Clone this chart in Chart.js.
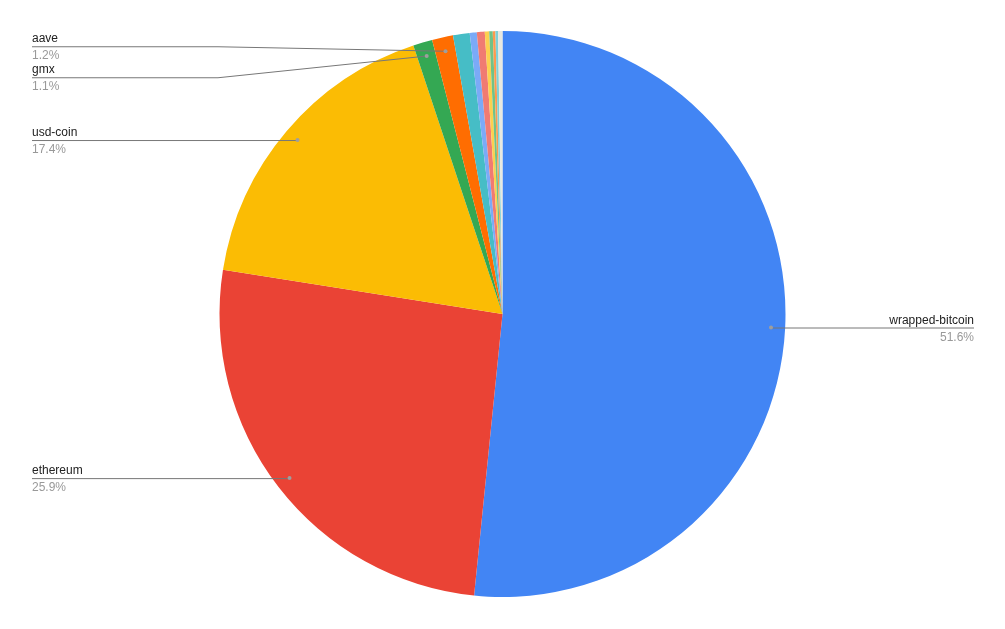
<!DOCTYPE html>
<html>
<head>
<meta charset="utf-8">
<script src="https://cdn.jsdelivr.net/npm/chart.js@4/dist/chart.umd.min.js"></script>
<style>
  html, body { margin: 0; padding: 0; background: #fff; }
  #wrap { width: 1005px; height: 629px; }
</style>
</head>
<body>
<div id="wrap"><canvas id="chartPie"></canvas></div>
<script>
// --- DATA ---
const labels = ['wrapped-bitcoin', 'ethereum', 'usd-coin', 'gmx', 'aave',
  'other-1', 'other-2', 'other-3', 'other-4', 'other-5', 'other-6', 'other-7', 'other-8'];
const values = [51.6, 25.9, 17.4, 1.1, 1.2, 0.95, 0.4, 0.45, 0.25, 0.2, 0.15, 0.15, 0.25];
const colors = ['#4285f4', '#ea4335', '#fbbc04', '#34a853', '#ff6d01', '#46bdc6',
  '#7baaf7', '#f07b72', '#fcd04f', '#71c287', '#ff994d', '#7ed1d7', '#e8e8e0'];

// --- LABELS WITH LEADER LINES (only slices >= 1%) ---
const leaderLabels = {
  id: 'leaderLabels',
  afterDraw(chart) {
    const ctx = chart.ctx;
    const meta = chart.getDatasetMeta(0);
    const total = values.reduce((a, b) => a + b, 0);
    const left = [], right = [];
    meta.data.forEach((arc, i) => {
      const pct = values[i] / total * 100;
      if (pct < 1) return;
      const mid = (arc.startAngle + arc.endAngle) / 2;
      const r = arc.outerRadius * 0.95;
      const x = arc.x + Math.cos(mid) * r;
      const y = arc.y + Math.sin(mid) * r;
      const item = { x, y, ly: y, name: labels[i], pct: pct.toFixed(1) + '%' };
      (x < arc.x ? left : right).push(item);
    });
    [left, right].forEach(list => {
      list.sort((a, b) => a.y - b.y);
      let pushed = false;
      for (let k = 1; k < list.length; k++) {
        if (list[k].ly < list[k - 1].ly + 31) { list[k].ly = list[k - 1].ly + 31; pushed = true; }
      }
      // crowded labels at the top: lift the stack a little
      if (pushed) {
        for (let k = 0; k < list.length; k++) {
          if (k === 0 || list[k].ly !== list[k].y) list[k].ly -= 5; else break;
        }
      }
    });
    ctx.save();
    ctx.font = '12px "Liberation Sans", Arial, sans-serif';
    const draw = (it, side) => {
      const endX = side === 'left' ? 32 : 974;
      const elbowX = side === 'left' ? 218 : 800;
      ctx.strokeStyle = '#777777';
      ctx.lineWidth = 1;
      ctx.beginPath();
      ctx.moveTo(it.x, it.y);
      if (Math.abs(it.ly - it.y) > 0.5) ctx.lineTo(elbowX, it.ly + 0.5);
      else ctx.lineTo(it.x, it.ly + 0.5);
      ctx.lineTo(endX, it.ly + 0.5);
      ctx.stroke();
      ctx.fillStyle = '#9e9e9e';
      ctx.beginPath();
      ctx.arc(it.x, it.y, 2, 0, Math.PI * 2);
      ctx.fill();
      ctx.textAlign = side === 'left' ? 'left' : 'right';
      ctx.textBaseline = 'alphabetic';
      ctx.fillStyle = '#222222';
      ctx.fillText(it.name, endX, it.ly - 4);
      ctx.fillStyle = '#999999';
      ctx.fillText(it.pct, endX, it.ly + 13);
    };
    left.forEach(it => draw(it, 'left'));
    right.forEach(it => draw(it, 'right'));
    ctx.restore();
  }
};

// --- CHART ---
new Chart(document.getElementById('chartPie'), {
  type: 'pie',
  data: {
    labels: labels,
    datasets: [{
      data: values,
      backgroundColor: colors,
      borderWidth: 0
    }]
  },
  options: {
    responsive: true,
    maintainAspectRatio: false,
    animation: false,
    layout: { padding: { top: 31, bottom: 32 } },
    plugins: {
      legend: { display: false },
      tooltip: { enabled: false }
    }
  },
  plugins: [leaderLabels]
});
</script>
</body>
</html>
